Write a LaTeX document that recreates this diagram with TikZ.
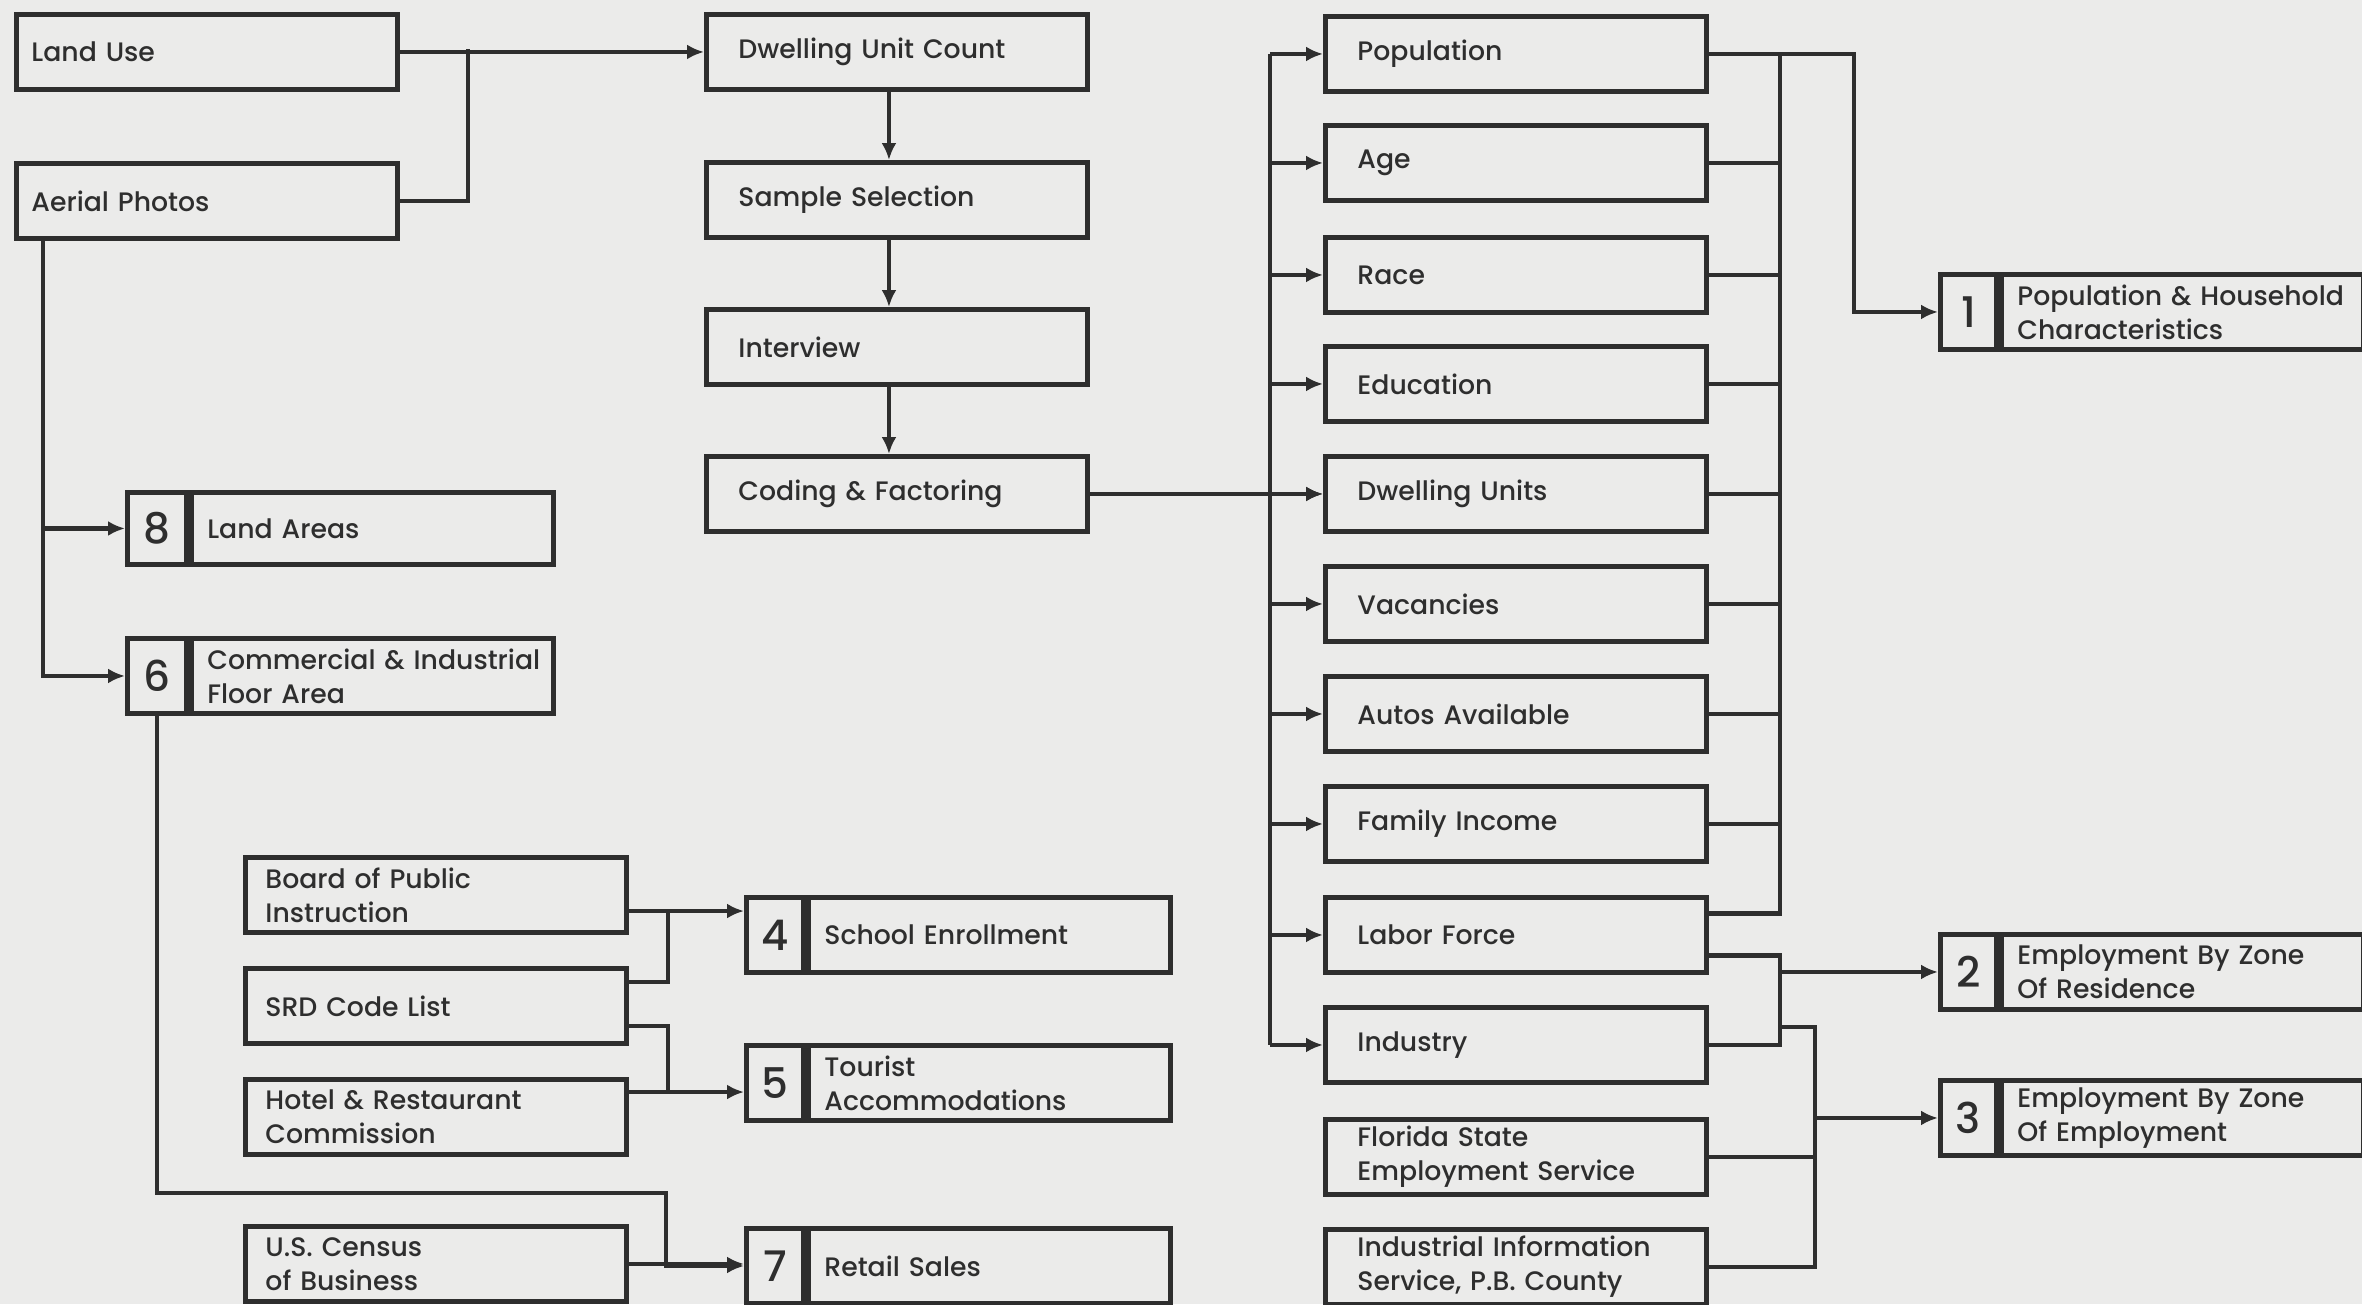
\documentclass[tikz,border=0pt]{standalone}
\usepackage{fontspec}
\setmainfont{Poppins Medium}
\usetikzlibrary{arrows.meta,positioning}
\definecolor{paper}{HTML}{EBEBEA}
\definecolor{ink}{HTML}{2E2E2E}
\tikzset{
	stage/.style={draw=ink, line width=1.4pt, anchor=north west, minimum height=0.75cm, inner xsep=0.32cm, inner ysep=0pt, text width=3.17cm, align=left, text=ink, font=\fontsize{7.6}{9.7}\selectfont},
	edgepad/.style={inner xsep=0.15cm, text width=3.51cm},
	srcpad/.style={inner xsep=0.2cm, text width=3.41cm},
	numcell/.style={draw=ink, line width=1.4pt, anchor=north west, minimum width=0.57cm, minimum height=0.75cm, inner sep=0pt, text=ink, font=\fontsize{12}{12}\selectfont},
	outbox/.style={stage, inner xsep=0.16cm, text width=3.30cm},
	feed/.style={draw=ink, line width=1.25pt},
	into/.style={feed, -{Latex[length=0.17cm,width=0.15cm]}}
}
\begin{document}
\begin{tikzpicture}
		%%%%% START %%%%%
		\useasboundingbox (0,0) rectangle (23.62,-13.04);
		\fill[paper] (0,0) rectangle (23.62,-13.04);
		
		\node[stage, edgepad] (landuse) at (0.14,-0.12) {Land Use};
		\node[stage, edgepad] (aerial) at (0.14,-1.61) {Aerial Photos};
		
		\node[stage] (duc) at (7.04,-0.12) {Dwelling Unit Count};
		\node[stage] (sample) at (7.04,-1.60) {Sample Selection};
		\node[stage] (interview) at (7.04,-3.07) {Interview};
		\node[stage] (coding) at (7.04,-4.54) {Coding \& Factoring};
		
		\node[numcell, minimum height=0.72cm, minimum width=0.59cm] (n8num) at (1.25,-4.90) {8};
		\node[outbox, minimum height=0.72cm] (n8) at (n8num.north east) {Land Areas};
		\node[numcell, minimum width=0.59cm] (n6num) at (1.25,-6.36) {6};
		\node[outbox] (n6) at (n6num.north east) {\mbox{Commercial \& Industrial}\\Floor Area};
		
		\node[stage, srcpad] (board) at (2.43,-8.55) {Board of Public\\Instruction};
		\node[stage, srcpad] (srd) at (2.43,-9.66) {SRD Code List};
		\node[stage, srcpad] (hotel) at (2.43,-10.77) {Hotel \& Restaurant\\Commission};
		\node[stage, srcpad] (census) at (2.43,-12.24) {U.S. Census\\of Business};
		
		\node[numcell] (n4num) at (7.44,-8.95) {4};
		\node[outbox] (n4) at (n4num.north east) {School Enrollment};
		\node[numcell] (n5num) at (7.44,-10.43) {5};
		\node[outbox] (n5) at (n5num.north east) {Tourist\\Accommodations};
		\node[numcell] (n7num) at (7.44,-12.26) {7};
		\node[outbox] (n7) at (n7num.north east) {Retail Sales};
		
		\node[stage] (pop) at (13.23,-0.14) {Population};
		\node[stage] (age) at (13.23,-1.23) {Age};
		\node[stage] (race) at (13.23,-2.35) {Race};
		\node[stage] (edu) at (13.23,-3.44) {Education};
		\node[stage] (du) at (13.23,-4.54) {Dwelling Units};
		\node[stage] (vac) at (13.23,-5.64) {Vacancies};
		\node[stage] (autos) at (13.23,-6.74) {Autos Available};
		\node[stage] (fam) at (13.23,-7.84) {Family Income};
		\node[stage] (labor) at (13.23,-8.95) {Labor Force};
		\node[stage] (ind) at (13.23,-10.05) {Industry};
		\node[stage] (fses) at (13.23,-11.17) {Florida State\\Employment Service};
		\node[stage] (iis) at (13.23,-12.27) {Industrial Information\\Service, P.B. County};
		
		\node[numcell, minimum width=0.56cm] (n1num) at (19.38,-2.72) {1};
		\node[outbox] (n1) at (n1num.north east) {Population \& Household\\Characteristics};
		\node[numcell, minimum width=0.56cm] (n2num) at (19.38,-9.32) {2};
		\node[outbox] (n2) at (n2num.north east) {Employment By Zone\\Of Residence};
		\node[numcell, minimum width=0.56cm] (n3num) at (19.38,-10.78) {3};
		\node[outbox] (n3) at (n3num.north east) {Employment By Zone\\Of Employment};
		
		% left side
		\coordinate (j1) at (4.68,-0.49);
		\draw[into] (landuse.east) -- (duc.west);
		\draw[feed] (aerial.east) -| (j1);
		\draw[into] ([xshift=-0.08cm]duc.south) -- ([xshift=-0.08cm]sample.north);
		\draw[into] ([xshift=-0.08cm]sample.south) -- ([xshift=-0.08cm]interview.north);
		\draw[into] ([xshift=-0.08cm]interview.south) -- ([xshift=-0.08cm]coding.north);
		
		\draw[into] ([xshift=0.29cm]aerial.south west) |- (n8num.west);
		\draw[into] ([xshift=0.29cm]aerial.south west) |- (n6num.west);
		
		\coordinate (j6) at (6.66,-11.93);
		\draw[into] (n6num.south) |- (j6) |- (n7num.west);
		\draw[into] (census.east) -- (census.east -| n7num.west);
		
		\coordinate (j4) at (6.68,-9.11);
		\coordinate (j5) at (6.68,-10.92);
		\draw[into] (board.east |- j4) -- (j4 -| n4num.west);
		\draw[feed] ([yshift=0.24cm]srd.east) -| (j4);
		\draw[feed] ([yshift=-0.2cm]srd.east) -| (j5);
		\draw[into] (hotel.east |- j5) -- (j5 -| n5num.west);
		
		% right side
		\draw[into] (coding.east) -- (du.west);
		\coordinate (lbus) at (12.70,0);
		\draw[feed] (lbus |- pop.west) -- (lbus |- ind.west);
		\foreach \n in {pop,age,race,edu,du,vac,autos,fam,labor,ind}
			\draw[into] (lbus |- \n.west) -- (\n.west);
		
		\coordinate (rbus) at (17.80,0);
		\coordinate (p1) at (18.54,0);
		\draw[into] (pop.east) -| (p1 |- n1num.west) -- (n1num.west);
		\draw[feed] ([yshift=0.215cm]labor.east) -| (rbus |- pop.east);
		\foreach \n in {age,race,edu,du,vac,autos,fam}
			\draw[feed] (\n.east) -- (rbus |- \n.east);
		
		\draw[feed] ([yshift=-0.205cm]labor.east) -| (rbus |- ind.east) -- (ind.east);
		\draw[into] (rbus |- n2num.west) -- (n2num.west);
		
		\coordinate (ebus) at (18.15,0);
		\coordinate (e0) at (17.80,-10.27);
		\draw[feed] (e0) -| (ebus |- iis.east) -- (iis.east);
		\draw[feed] (fses.east) -- (ebus |- fses.east);
		\draw[into] (ebus |- n3num.west) -- (n3num.west);
		
		%%%%% END %%%%%
\end{tikzpicture}
\end{document}
